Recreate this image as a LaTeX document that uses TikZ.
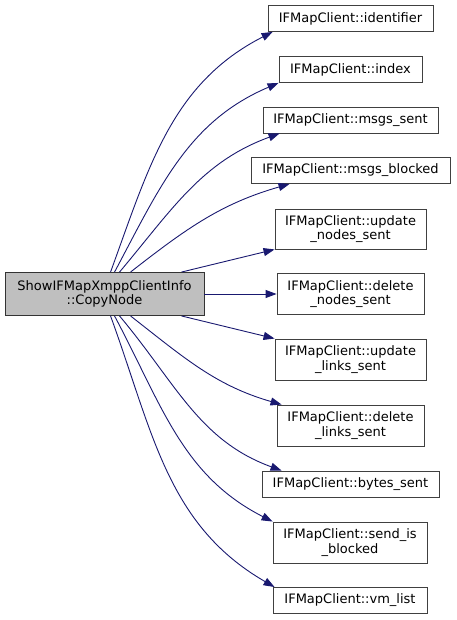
\documentclass[tikz,border=0pt]{standalone}
\usepackage{fontspec}
\setmainfont{DejaVu Sans}
\usetikzlibrary{arrows.meta}
\definecolor{edgeblue}{RGB}{25,25,112}
\definecolor{srcgray}{RGB}{191,191,191}
\tikzset{
  fnbox/.style={draw=black!75, fill=white, line width=0.9pt, align=center, inner sep=0pt,
    minimum height=26pt, font=\fontsize{13}{14.5}\selectfont},
  callee/.style={edgeblue, line width=0.9pt, -{Triangle[length=11pt,width=8pt]}}
}

\begin{document}
\begin{tikzpicture}[x=1pt,y=-1pt]
  \useasboundingbox (0,0) rectangle (456,620);
  % caller
  \node[fnbox, fill=srcgray, draw=black!80, minimum width=199pt, minimum height=43pt] (src) at (104.5,294) {ShowIFMapXmppClientInfo\\::CopyNode};
  % callees
  \node[fnbox, minimum width=165pt] (ident)    at (350.5,18.5)  {IFMapClient::identifier};
  \node[fnbox, minimum width=143pt] (index)    at (350.5,69.5)  {IFMapClient::index};
  \node[fnbox, minimum width=175pt] (msent)    at (350.5,120)   {IFMapClient::msgs\_sent};
  \node[fnbox, minimum width=199pt] (mblocked) at (350.5,170.5) {IFMapClient::msgs\_blocked};
  \node[fnbox, minimum width=151pt, minimum height=40pt] (unodes) at (350.5,229) {IFMapClient::update\\\_nodes\_sent};
  \node[fnbox, minimum width=147pt, minimum height=41pt] (dnodes) at (350.5,294) {IFMapClient::delete\\\_nodes\_sent};
  \node[fnbox, minimum width=151pt, minimum height=41pt] (ulinks) at (350.5,359.5) {IFMapClient::update\\\_links\_sent};
  \node[fnbox, minimum width=147pt, minimum height=41pt] (dlinks) at (350.5,425.5) {IFMapClient::delete\\\_links\_sent};
  \node[fnbox, minimum width=177pt] (bsent)    at (350.5,484)   {IFMapClient::bytes\_sent};
  \node[fnbox, minimum width=154pt, minimum height=41pt] (sblocked) at (350,542.5) {IFMapClient::send\_is\\\_blocked};
  \node[fnbox, minimum width=154pt] (vmlist)   at (350,600.5)   {IFMapClient::vm\_list};

  % calls
  \draw[callee] ([xshift=106pt]src.north west) to[out=70,in=207] ([xshift=5pt]ident.south west);
  \draw[callee] ([xshift=110pt]src.north west) to[out=62,in=203] (index.south west);
  \draw[callee] ([xshift=115pt]src.north west) to[out=50,in=200] ([xshift=17pt]msent.south west);
  \draw[callee] ([xshift=126pt]src.north west) to[out=38,in=196] ([xshift=39pt]mblocked.south west);
  \draw[callee] ([xshift=177pt]src.north west) -- (unodes.south west);
  \draw[callee] (src.east) -- (dnodes.west);
  \draw[callee] ([xshift=177pt]src.south west) -- (ulinks.north west);
  \draw[callee] ([xshift=126pt]src.south west) to[out=-38,in=164] ([xshift=5pt]dlinks.north west);
  \draw[callee] ([xshift=115pt]src.south west) to[out=-50,in=160] ([xshift=20pt]bsent.north west);
  \draw[callee] ([xshift=110pt]src.south west) to[out=-62,in=153] (sblocked.north west);
  \draw[callee] ([xshift=106pt]src.south west) to[out=-70,in=150] ([xshift=2pt]vmlist.north west);
\end{tikzpicture}
\end{document}
